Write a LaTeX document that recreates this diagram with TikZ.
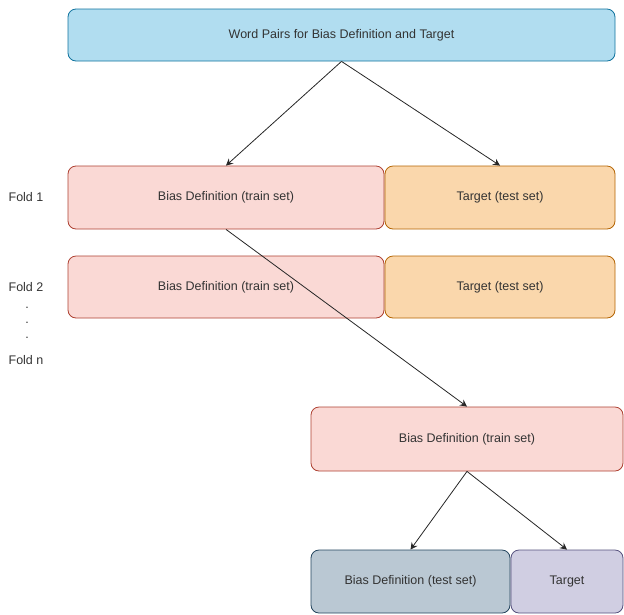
\documentclass[tikz,border=0pt]{standalone}
\usepackage{fontspec}
\setmainfont{Liberation Sans}
\usetikzlibrary{arrows.meta}

\definecolor{pairsfill}{HTML}{B1DDF0}
\definecolor{pairsline}{HTML}{10739E}
\definecolor{trainfill}{HTML}{FAD9D5}
\definecolor{trainline}{HTML}{AE4132}
\definecolor{testfill}{HTML}{FAD7AC}
\definecolor{testline}{HTML}{B46504}
\definecolor{devfill}{HTML}{BAC8D3}
\definecolor{devline}{HTML}{23445D}
\definecolor{targetfill}{HTML}{D0CEE2}
\definecolor{targetline}{HTML}{56517E}
\definecolor{textgrey}{HTML}{333333}

\tikzset{
  box/.style={draw, rounded corners=8pt, line width=0.8pt, text=textgrey,
    minimum height=63pt, inner sep=0pt, font=\fontsize{12.5}{15}\selectfont},
  pairsbox/.style={box, fill=pairsfill, draw=pairsline},
  trainbox/.style={box, fill=trainfill, draw=trainline},
  testbox/.style={box, fill=testfill, draw=testline},
  devbox/.style={box, fill=devfill, draw=devline},
  targetbox/.style={box, fill=targetfill, draw=targetline},
  foldlabel/.style={text=textgrey, inner sep=0pt, font=\fontsize{12.5}{15}\selectfont},
  arrow/.style={->, line width=0.8pt, draw=black!85}
}

\begin{document}
\begin{tikzpicture}[x=1pt,y=-1pt,>={Stealth[length=7pt,width=7pt,inset=2.5pt]}]
  \useasboundingbox (0,0) rectangle (624,614);

  % word pairs
  \node[pairsbox, minimum width=547pt, minimum height=52pt] (pairs) at (341.5,35) {Word Pairs for Bias Definition and Target};

  % folds
  \node[foldlabel] (f1) at (26,197) {Fold 1};
  \node[trainbox, minimum width=316pt] (train1) at (226,197.5) {Bias Definition (train set)};
  \node[testbox, minimum width=230pt] (test1) at (500,197.5) {Target (test set)};

  \node[foldlabel] (f2) at (26,287) {Fold 2};
  \node[trainbox, minimum width=316pt, minimum height=62pt] (train2) at (226,287) {Bias Definition (train set)};
  \node[testbox, minimum width=230pt, minimum height=62pt] (test2) at (500,287) {Target (test set)};

  \node[foldlabel, anchor=base] (d1) at (27,308) {.};
  \node[foldlabel, anchor=base] (d2) at (27,323) {.};
  \node[foldlabel, anchor=base] (d3) at (27,338) {.};
  \node[foldlabel] (fn) at (26,360) {Fold n};

  % split of the train set
  \node[trainbox, minimum width=312pt, minimum height=64pt] (train) at (467,439) {Bias Definition (train set)};
  \node[devbox, minimum width=199pt] (dev) at (410.5,581.5) {Bias Definition (test set)};
  \node[targetbox, minimum width=112pt] (target) at (567,581.5) {Target};

  \draw[arrow] (pairs.south) to (train1.north);
  \draw[arrow] (pairs.south) to (test1.north);
  \draw[arrow] (train1.south) to (train.north);
  \draw[arrow] (train.south) to (dev.north);
  \draw[arrow] (train.south) to (target.north);
\end{tikzpicture}
\end{document}
